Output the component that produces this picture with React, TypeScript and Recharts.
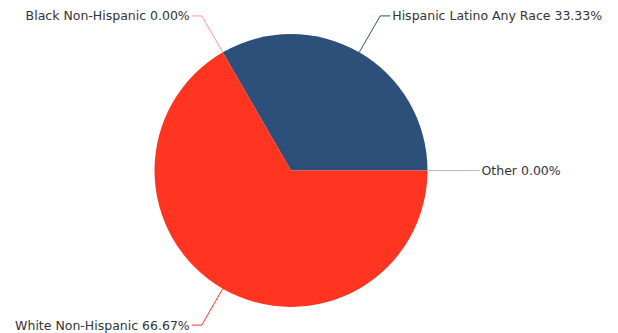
import { PieChart, Pie, Cell } from 'recharts'

const names = [
  'Hispanic Latino Any Race',
  'Black Non-Hispanic',
  'White Non-Hispanic',
  'Other',
]
const values = [1, 0, 2, 0]
const colors = ['#2c5079', '#ff9a90', '#ff3421', '#a8bccf']

const data = names.map((name, i) => ({ name, value: values[i] }))

const RAD = Math.PI / 180

function renderLabel(props: any) {
  const { cx, cy, midAngle, outerRadius, percent, name, index } = props
  const cos = Math.cos(-midAngle * RAD)
  const sin = Math.sin(-midAngle * RAD)
  const sx = cx + outerRadius * cos
  const sy = cy + outerRadius * sin
  const r2 = outerRadius + 42
  const mx = cx + r2 * cos
  const my = cy + r2 * sin
  const right = cos >= -0.001
  const ex = mx + (right ? 10 : -10)
  const tx = ex + (right ? 2 : -2)
  return (
    <g key={`lbl-${index}`}>
      <polyline
        points={`${sx},${sy} ${mx},${my} ${ex},${my}`}
        fill="none"
        stroke={colors[index]}
        strokeWidth={1}
      />
      <text
        x={tx}
        y={my}
        dy={4.5}
        textAnchor={right ? 'start' : 'end'}
        fill="#333340"
        fontSize={12.5}
        fontFamily="DejaVu Sans, Verdana, sans-serif"
      >
        {`${name} ${(percent * 100).toFixed(2)}%`}
      </text>
    </g>
  )
}

export default function App() {
  return (
    <div style={{ position: 'absolute', left: 0, top: 0, background: '#fff' }}>
      <PieChart width={618} height={333} margin={{ top: 0, right: 0, bottom: 0, left: 0 }}>
        <Pie
          data={data}
          dataKey="value"
          nameKey="name"
          cx={291}
          cy={170.5}
          outerRadius={136.5}
          startAngle={0}
          endAngle={360}
          stroke="none"
          label={renderLabel}
          labelLine={false}
          isAnimationActive={false}
        >
          {data.map((d, i) => (
            <Cell key={d.name} fill={colors[i]} />
          ))}
        </Pie>
      </PieChart>
    </div>
  )
}
